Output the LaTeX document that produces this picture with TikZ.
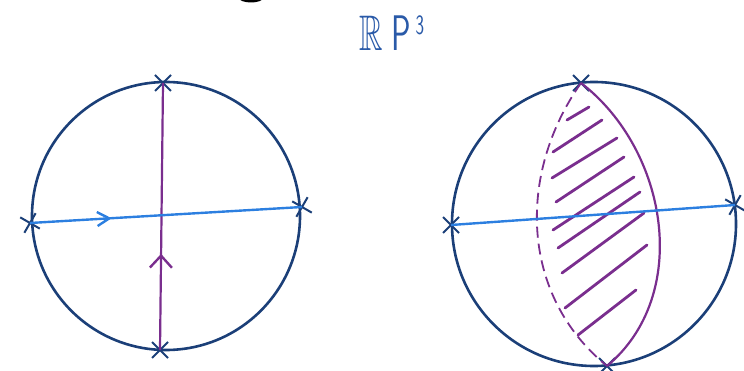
\documentclass[tikz,border=0pt]{standalone}
\usepackage{amsmath,amssymb}
\usepackage{xcolor}
\usepackage{tikz}
\usetikzlibrary{shapes.misc,arrows.meta,decorations.markings}

\definecolor{navy}{HTML}{1B3F78}
\definecolor{skyline}{HTML}{2C7FE0}
\definecolor{plum}{HTML}{7A2E8E}
\definecolor{inkblue}{HTML}{2A5AA8}

\begin{document}
\begin{tikzpicture}[x=1pt, y=-1pt,
    ball/.style={circle, draw=navy, line width=2.6pt, inner sep=0pt, minimum size=#1},
    xpt/.style={cross out, draw=navy, line width=2pt, minimum size=14pt, inner sep=0pt},
    axis/.style={draw=skyline, line width=2.4pt},
    loopline/.style={draw=plum, line width=2.2pt},
    hatch/.style={draw=plum, line width=2.8pt, line cap=round},
    midtip/.style 2 args={postaction={decorate}, decoration={markings,
        mark=at position #1 with {\arrow{Straight Barb[length=12pt, width=#2, line width=2.4pt]}}}}]

    \useasboundingbox (0,0) rectangle (744,371);

    % Title
    \node [text=inkblue, font=\fontsize{50}{50}\selectfont\sffamily, xscale=0.65] (title) at (392,33)
        {$\mathbb{R}$\hspace{12pt}P\hspace{8pt}\raisebox{16pt}{\fontsize{28}{28}\selectfont 3}};
    \fill (251,-2) ellipse (12 and 4.5);

    % Left ball
    \node [ball=268pt] (ballA) at (166,216) {};
    \node [xpt] (topA) at (163,83) {};
    \node [xpt] (botA) at (160,350) {};
    \node [xpt, rotate=15] (leftA) at (30,223) {};
    \node [xpt, rotate=15] (rightA) at (302,207) {};
    \draw [loopline, midtip={0.36}{22pt}] (botA.center) -- (topA.center);
    \draw [axis, midtip={0.3}{14pt}] (leftA.center) -- (rightA.center);

    % Right ball
    \node [ball=284pt] (ballB) at (594,224) {};
    \node [xpt] (topB) at (581,83) {};
    \node [xpt] (botB) at (607,366) {};
    \node [xpt] (leftB) at (451,225) {};
    \node [xpt, rotate=15] (rightB) at (735,205) {};

    % Disc, front edge and hidden edge
    \draw [loopline] (topB.center) .. controls (668,150) and (692,295) .. (botB.center);
    \draw [loopline, line width=1.8pt, dash pattern=on 11pt off 6pt]
        (topB.center) .. controls (517,174) and (520,295) .. (botB.center);

    % Hatching
    \foreach \xa/\ya/\xb/\yb in {567/120/589/107, 553/152/602/120, 552/178/617/138,
        556/202/624/157, 553/230/634/177, 558/248/640/192, 562/273/644/213,
        565/308/647/245, 578/335/636/290}
        \draw [hatch] (\xa,\ya) -- (\xb,\yb);

    \draw [axis] (leftB.center) -- (rightB.center);

\end{tikzpicture}
\end{document}
